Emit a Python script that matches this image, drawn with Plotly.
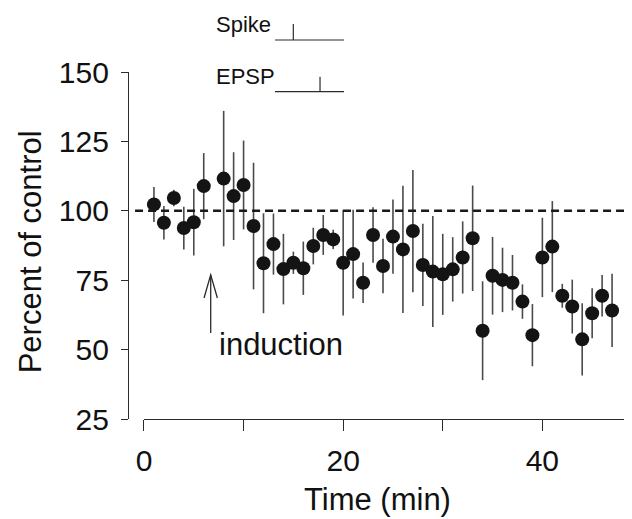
import plotly.graph_objects as go

# minutes after start (minute 7 = induction, no sample)
minutes = [1, 2, 3, 4, 5, 6, 8, 9, 10, 11, 12, 13, 14, 15, 16, 17, 18, 19, 20,
           21, 22, 23, 24, 25, 26, 27, 28, 29, 30, 31, 32, 33, 34, 35, 36, 37,
           38, 39, 40, 41, 42, 43, 44, 45, 46, 47]
pct_control = [102.3, 95.7, 104.6, 93.8, 95.9, 108.9, 111.6, 105.3, 109.3, 94.5,
               81.1, 88.0, 79.0, 81.3, 79.3, 87.3, 91.3, 89.7, 81.3, 84.4, 74.1,
               91.3, 80.1, 90.7, 86.1, 92.7, 80.5, 78.1, 77.1, 78.9, 83.2, 90.1,
               56.8, 76.6, 75.1, 74.1, 67.3, 55.2, 83.2, 87.1, 69.4, 65.5, 53.7,
               63.1, 69.4, 64.1]
sem = [6.3, 6.0, 3.0, 7.7, 12.0, 11.9, 24.4, 15.8, 16.0, 22.8, 18.0, 11.0, 12.7,
       4.0, 9.6, 6.6, 7.2, 3.5, 19.0, 16.0, 7.3, 10.0, 9.8, 13.4, 22.9, 22.0,
       14.8, 20.0, 14.6, 11.6, 13.0, 19.0, 17.8, 14.0, 11.6, 10.0, 6.2, 11.2,
       14.3, 16.4, 4.3, 9.7, 13.0, 9.0, 7.5, 13.2]

x_ticks = [0, 10, 20, 30, 40]
x_ticklabels = ["0", "", "20", "", "40"]
y_ticks = [25, 50, 75, 100, 125, 150]

FONT = "Liberation Sans, Arial, sans-serif"
INK = "#2b2b2b"

fig = go.Figure()
fig.add_trace(go.Scatter(
    x=minutes, y=pct_control, mode="markers",
    marker=dict(size=14, color="#141414", line=dict(width=0)),
    error_y=dict(type="data", array=sem, visible=True,
                 color="#4a4a4a", thickness=1.6, width=0),
    showlegend=False, cliponaxis=False,
))

shapes = [
    # baseline 100 %
    dict(type="line", xref="paper", yref="y", x0=0.014, x1=1, y0=100, y1=100,
         line=dict(color="#1a1a1a", width=2.5, dash="8px,5px")),
    # induction arrow
    dict(type="line", xref="x", yref="y", x0=6.7, x1=6.7, y0=56, y1=76.9,
         line=dict(color=INK, width=1.3)),
    dict(type="path", xref="x", yref="y",
         path="M 6.03,68.6 L 6.7,76.9 L 7.37,68.6",
         line=dict(color=INK, width=1.3)),
    # inset: spike / EPSP timing
    dict(type="line", xref="paper", yref="paper", x0=0.2917, x1=0.4286,
         y0=1.0922, y1=1.0922, line=dict(color=INK, width=1.2)),
    dict(type="line", xref="paper", yref="paper", x0=0.328, x1=0.328,
         y0=1.0922, y1=1.1383, line=dict(color=INK, width=1.2)),
    dict(type="line", xref="paper", yref="paper", x0=0.2917, x1=0.4286,
         y0=0.9432, y1=0.9432, line=dict(color=INK, width=1.2)),
    dict(type="line", xref="paper", yref="paper", x0=0.381, x1=0.381,
         y0=0.9432, y1=0.9865, line=dict(color=INK, width=1.2)),
]

annotations = [
    dict(text="induction", xref="x", yref="y", x=7.3, y=51.7,
         xanchor="left", yanchor="middle", showarrow=False,
         font=dict(size=31, color="#111")),
    dict(text="Spike", xref="paper", yref="paper", x=0.1706, y=1.138,
         xanchor="left", yanchor="middle", showarrow=False,
         font=dict(size=22, color="#111")),
    dict(text="EPSP", xref="paper", yref="paper", x=0.1706, y=0.986,
         xanchor="left", yanchor="middle", showarrow=False,
         font=dict(size=22, color="#111")),
    dict(text="Time (min)", xref="paper", yref="paper", x=0.496, y=-0.233,
         xanchor="center", yanchor="middle", showarrow=False,
         font=dict(size=31, color="#111")),
    dict(text="Percent of control", xref="paper", yref="paper", x=-0.194, y=0.481,
         xanchor="center", yanchor="middle", textangle=-90, showarrow=False,
         font=dict(size=31, color="#111")),
]

# page body has an 8px margin, so the figure is drawn 8px smaller and shifted
fig.update_layout(
    width=624, height=511,
    margin=dict(l=120, r=0, t=64, b=100),
    paper_bgcolor="white", plot_bgcolor="white",
    font=dict(family=FONT, color="#111"),
    shapes=shapes, annotations=annotations,
    xaxis=dict(range=[0, 49], domain=[0.0317, 1], tickvals=x_ticks,
               ticktext=x_ticklabels, showline=True, linecolor=INK, linewidth=1.3,
               ticks="outside", ticklen=11, tickwidth=1.3, tickcolor=INK,
               showgrid=False, zeroline=False, tickfont=dict(size=30),
               ticklabelstandoff=4),
    yaxis=dict(range=[25, 150], anchor="free", position=0, tickvals=y_ticks,
               showline=True, linecolor=INK, linewidth=1.3,
               ticks="outside", ticklen=7, tickwidth=1.3, tickcolor=INK,
               showgrid=False, zeroline=False, tickfont=dict(size=30),
               ticklabelstandoff=6),
)

fig.write_html("out.html")
